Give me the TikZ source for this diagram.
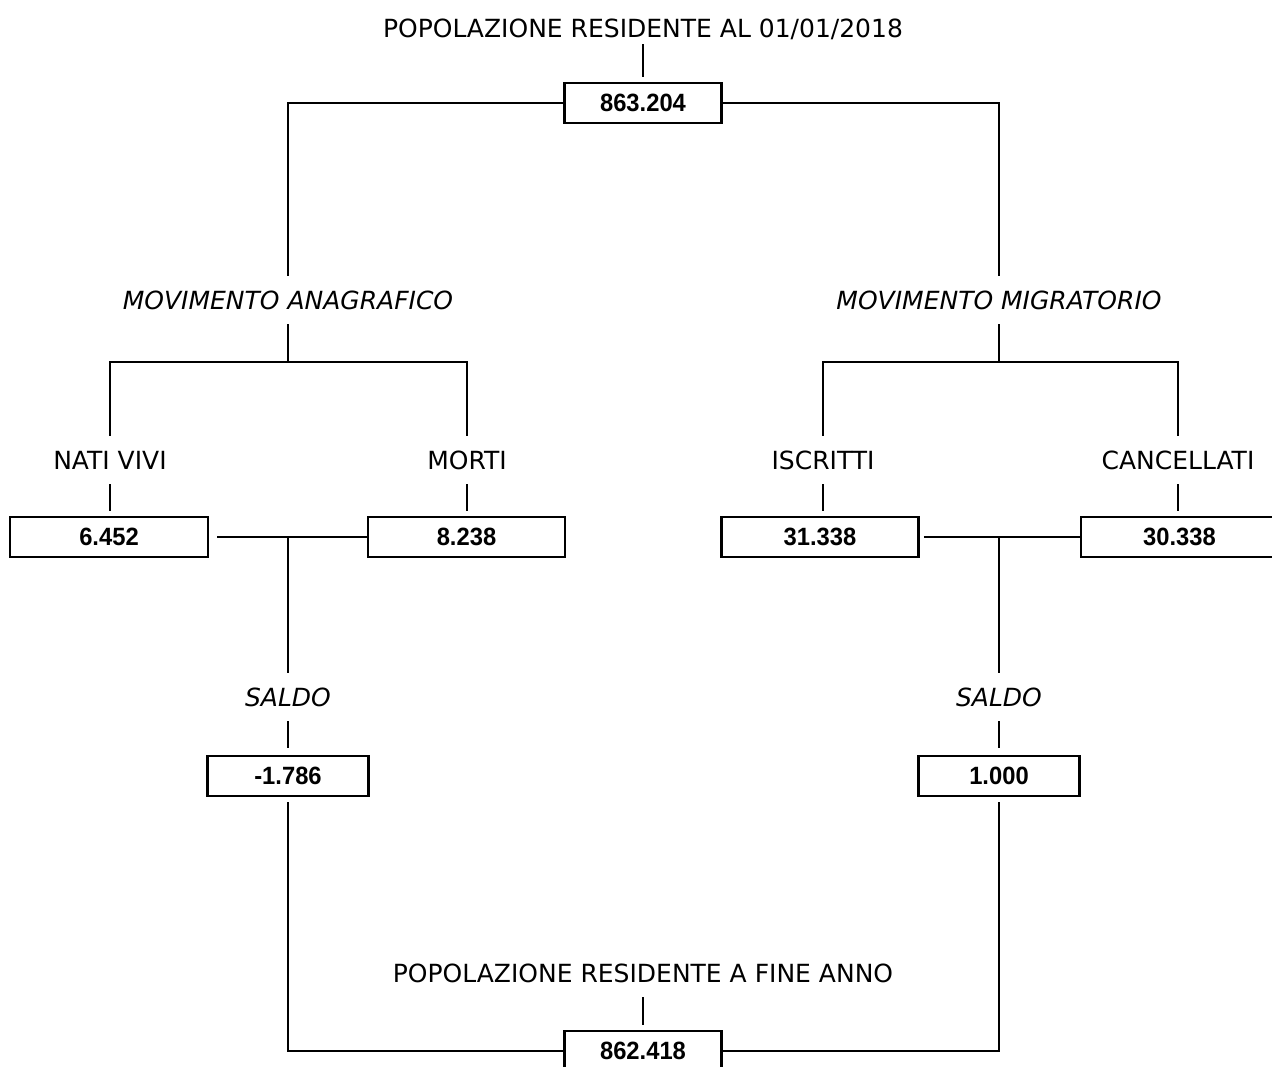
\documentclass[tikz,border=0pt]{standalone}
\usepackage{fontspec}
\setmainfont{DejaVu Sans}
\newfontfamily\numfont[FakeStretch=0.95]{Liberation Sans}
\begin{document}
\begin{tikzpicture}[x=1pt,y=-1pt,
  lbl/.style={inner xsep=2pt, inner ysep=15pt, text height=18pt, text depth=0pt, font=\fontsize{25}{30}\selectfont},
  ilbl/.style={lbl, font=\fontsize{25}{30}\selectfont\itshape},
  numbox/.style={draw, line width=2.6pt, inner sep=0pt, minimum height=40pt, font=\numfont\bfseries\fontsize{25}{29}\selectfont},
  conn/.style={line width=1.6pt}]
\useasboundingbox (0,0) rectangle (1272,1066);
\node [lbl, inner ysep=7pt] (popIni) at (643,28) {POPOLAZIONE RESIDENTE AL 01/01/2018};
\node [numbox, minimum width=157pt] (totIni) at (643,103) {863.204};
\node [ilbl] (movAna) at (288,300) {MOVIMENTO ANAGRAFICO};
\node [ilbl] (movMig) at (999,300) {MOVIMENTO MIGRATORIO};
\node [lbl] (natiLbl) at (110,460) {NATI VIVI};
\node [lbl] (mortiLbl) at (467,460) {MORTI};
\node [lbl] (iscrLbl) at (823,460) {ISCRITTI};
\node [lbl] (cancLbl) at (1178,460) {CANCELLATI};
\node [numbox, minimum width=198pt] (nati) at (109,537) {6.452};
\node [numbox, minimum width=197pt] (morti) at (466.5,537) {8.238};
\node [numbox, minimum width=197pt] (iscr) at (820,537) {31.338};
\node [numbox, minimum width=197pt] (canc) at (1179.5,537) {30.338};
\node [ilbl] (saldoAna) at (288,697) {SALDO};
\node [ilbl] (saldoMig) at (999,697) {SALDO};
\node [numbox, minimum width=161pt] (sAna) at (288,776) {-1.786};
\node [numbox, minimum width=161pt] (sMig) at (999,776) {1.000};
\node [lbl] (popFin) at (643,973) {POPOLAZIONE RESIDENTE A FINE ANNO};
\node [numbox, minimum width=157pt] (totFin) at (643,1051) {862.418};
\coordinate (jAna) at (288,362);
\coordinate (jMig) at (999,362);
\coordinate (jSA) at (288,537);
\coordinate (jSM) at (999,537);
\draw [conn, shorten >=5pt] (popIni) -- (totIni);
\draw [conn] (totIni.west) -| (movAna.north);
\draw [conn] (totIni.east) -| (movMig.north);
\draw [conn] (movAna) -- (jAna);
\draw [conn] (movMig) -- (jMig);
\draw [conn] (natiLbl.north) |- (jAna) -| (mortiLbl.north);
\draw [conn] (iscrLbl.north) |- (jMig) -| (cancLbl.north);
\draw [conn, shorten >=5pt] (natiLbl.south) -- (natiLbl.south |- nati.north);
\draw [conn, shorten >=5pt] (mortiLbl.south) -- (mortiLbl.south |- morti.north);
\draw [conn, shorten >=5pt] (iscrLbl.south) -- (iscrLbl.south |- iscr.north);
\draw [conn, shorten >=5pt] (cancLbl.south) -- (cancLbl.south |- canc.north);
\draw [conn, shorten <=8pt] (nati) -- (morti);
\draw [conn, shorten <=4pt] (iscr) -- (canc);
\draw [conn] (jSA) -- (saldoAna);
\draw [conn] (jSM) -- (saldoMig);
\draw [conn, shorten >=7pt] (saldoAna) -- (sAna);
\draw [conn, shorten >=7pt] (saldoMig) -- (sMig);
\draw [conn, shorten <=5pt] (sAna.south) |- (totFin.west);
\draw [conn, shorten <=5pt] (sMig.south) |- (totFin.east);
\draw [conn, shorten >=5pt] (popFin) -- (totFin);
\end{tikzpicture}
\end{document}
